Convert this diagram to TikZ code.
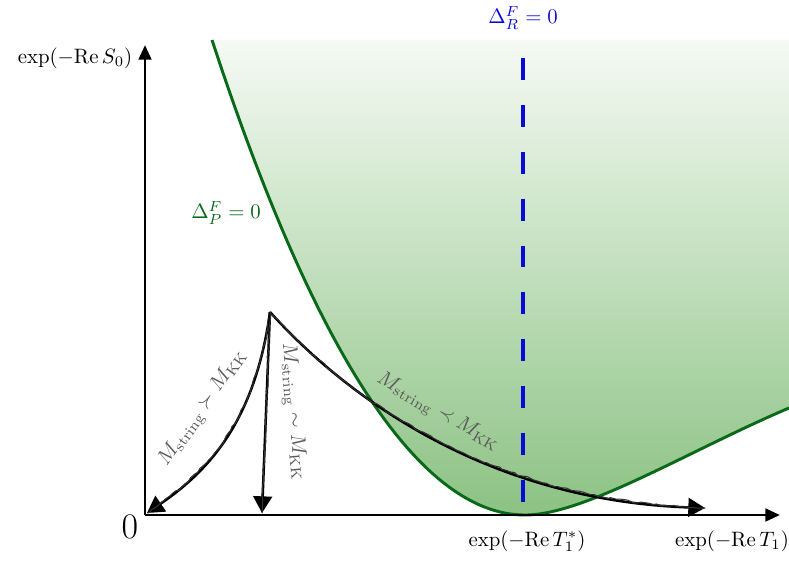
\documentclass[tikz,border=0pt]{standalone}
\usepackage{amsmath,amssymb}
\usepackage{tikz}
\usetikzlibrary{arrows.meta,decorations.pathmorphing}
\definecolor{curvegreen}{RGB}{8,105,25}
\definecolor{shadetop}{RGB}{245,250,244}
\definecolor{shadebot}{RGB}{140,194,131}
\definecolor{dashblue}{RGB}{10,10,215}
\definecolor{labelgray}{RGB}{90,90,90}
\tikzset{
	axis/.style={line width=1.4pt,-{Triangle[length=7pt,width=6pt]}},
	pencil/.style={line width=1.2pt,-{Triangle[length=8pt,width=9pt]}},
	roughline/.style={black!80,line width=0.5pt,decorate,decoration={random steps,segment length=2pt,amplitude=0.5pt}},
	masslabel/.style={text=labelgray,inner sep=0pt},
}

\begin{document}
\begin{tikzpicture}[x=0.48pt,y=-0.48pt]
	\useasboundingbox (0,0) rectangle (789,573);
	%
	\coordinate (O) at (145,515);
	\coordinate (xend) at (780,515);
	\coordinate (yend) at (145,45);
	\coordinate (rtop) at (523,58);
	\coordinate (rbot) at (523,515);
	\coordinate (peak) at (270,312);
	\coordinate (endA) at (147,513);
	\coordinate (endB) at (262,513);
	\coordinate (endC) at (705,508);
	%
	\shade[top color=shadetop,bottom color=shadebot] (212,40) .. controls (316,357) and (421,515) .. (525,515)
		.. controls (585,515) and (690,450) .. (789,408) -- (789,40) -- cycle;
	\draw[curvegreen,line width=1.4pt] (212,40) .. controls (316,357) and (421,515) .. (525,515)
		.. controls (585,515) and (690,450) .. (789,408);
	%
	\draw[dashblue,line width=2pt,dash pattern=on 10.5pt off 12pt] (rtop) -- (rbot);
	%
	\draw[axis] (O) -- (xend);
	\draw[axis] (O) -- (yend);
	%
	\draw[pencil] (peak) .. controls (255,420) and (210,470) .. (endA);
	\draw[roughline] (peak) .. controls (255,420) and (210,470) .. (endA);
	\draw[pencil] (peak) -- (endB);
	\draw[roughline] (peak) -- (endB);
	\draw[pencil] (peak) .. controls (340,390) and (480,500) .. (endC);
	\draw[roughline] (peak) .. controls (340,390) and (480,500) .. (endC);
	%
	\node[masslabel,rotate=55] (lblA) at (203,408) {$M_{\mathrm{string}} \succ M_{\mathrm{KK}}$};
	\node[masslabel,rotate=-85] (lblB) at (293,412) {$M_{\mathrm{string}} \sim M_{\mathrm{KK}}$};
	\node[masslabel,rotate=-30] (lblC) at (438,412) {$M_{\mathrm{string}} \prec M_{\mathrm{KK}}$};
	%
	\node (S0) at (75,58) {$\exp(-\mathrm{Re}\, S_0)$};
	\node (T1s) at (527,541) {$\exp(-\mathrm{Re}\, T_1^{*})$};
	\node (T1) at (732,541) {$\exp(-\mathrm{Re}\, T_1)$};
	\node (zero) at (130,527) {\fontsize{16}{19}\selectfont $0$};
	\node[text=dashblue] (DR) at (523,18) {$\Delta_R^F = 0$};
	\node[text=curvegreen] (DP) at (226,213) {$\Delta_P^F = 0$};
\end{tikzpicture}
\end{document}
